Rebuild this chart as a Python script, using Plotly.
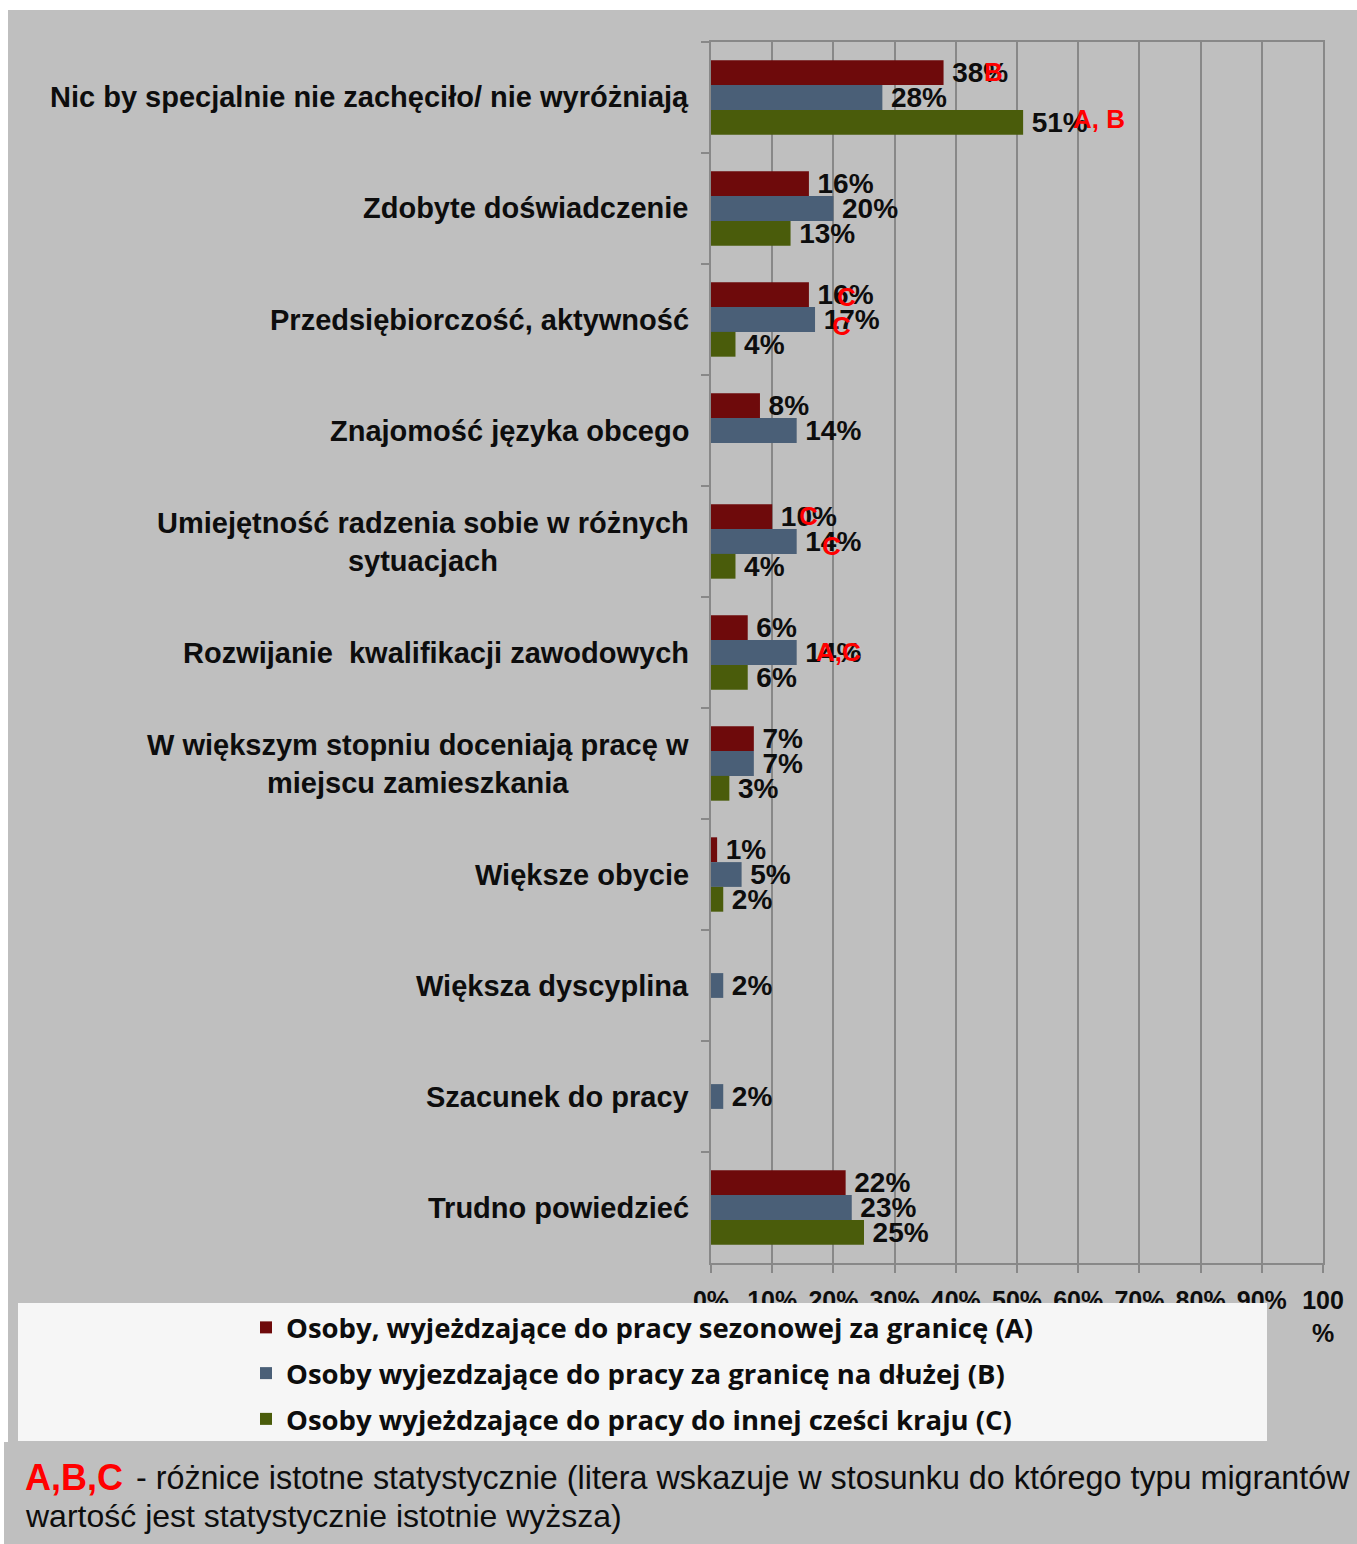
import plotly.graph_objects as go

# Survey answers (top to bottom)
categories = [
    "Nic by specjalnie nie zachęciło/ nie wyróżniają",
    "Zdobyte doświadczenie",
    "Przedsiębiorczość, aktywność",
    "Znajomość języka obcego",
    "Umiejętność radzenia sobie w różnych<br>sytuacjach",
    "Rozwijanie  kwalifikacji zawodowych",
    "W większym stopniu doceniają pracę w<br>miejscu zamieszkania",
    "Większe obycie",
    "Większa dyscyplina",
    "Szacunek do pracy",
    "Trudno powiedzieć",
]

series_names = [
    "Osoby, wyjeżdzające do pracy sezonowej za granicę (A)",
    "Osoby wyjezdzające do pracy za granicę na dłużej (B)",
    "Osoby wyjeżdzające do pracy do innej cześci kraju (C)",
]

seasonal_abroad = [38, 16, 16, 8, 10, 6, 7, 1, None, None, 22]
longer_abroad = [28, 20, 17, 14, 14, 14, 7, 5, 2, 2, 23]
domestic = [51, 13, 4, None, 4, 6, 3, 2, None, None, 25]
series_values = [seasonal_abroad, longer_abroad, domestic]

series_colors = ["#6E0A0B", "#4A5F77", "#4A5C0B"]

# Significance markers: (category index, series index, letters)
significance = [
    (0, 0, "B"),
    (0, 2, "A, B"),
    (2, 0, "C"),
    (2, 1, "C"),
    (4, 0, "C"),
    (4, 1, "C"),
    (5, 1, "A,C"),
]

x_tick_values = [0, 10, 20, 30, 40, 50, 60, 70, 80, 90, 100]
x_tick_text = ["0%", "10%", "20%", "30%", "40%", "50%", "60%", "70%", "80%", "90%", "100<br>%"]

W, H = 1357, 1544
GREY = "#BFBFBF"
GRID = "#888888"
SANS = "Liberation Sans, Arial, sans-serif"


def px_x(p):
    return p / W


def px_y(p):
    return 1 - p / H


def pct_labels(vals):
    return ["\u2009%d%%" % v if v is not None else "" for v in vals]


fig = go.Figure()

for name, vals, color in zip(series_names, series_values, series_colors):
    fig.add_trace(
        go.Bar(
            y=categories,
            x=vals,
            orientation="h",
            name=name,
            legendgroup=name,
            marker=dict(color=color, line=dict(width=0)),
            text=pct_labels(vals),
            textposition="outside",
            constraintext="none",
            cliponaxis=False,
            textfont=dict(family=SANS, size=28, color="#0D0D0D", weight="bold"),
            hoverinfo="skip",
        )
    )

annotations = []

# Category labels, centred line by line and right-aligned to the axis
for cat in categories:
    annotations.append(
        dict(
            x=px_x(691), xref="paper", xanchor="right",
            y=cat, yref="y", yanchor="middle",
            text=cat, align="center", showarrow=False,
            font=dict(family=SANS, size=29, color="#0D0D0D", weight="bold"),
        )
    )

# Red letters next to the bars whose value is significantly higher
letter_offsets = {
    (0, 0): (38, 25),
    (0, 2): (48, -22),
    (2, 0): (26, 23),
    (2, 1): (15, -6),
    (4, 0): (25, 26),
    (4, 1): (23, -4),
    (5, 1): (17, 1),
}
for ci, si, letters in significance:
    dx, dy = letter_offsets[(ci, si)]
    annotations.append(
        dict(
            x=series_values[si][ci], xref="x", xanchor="left", xshift=dx,
            y=categories[ci], yref="y", yanchor="middle", yshift=dy,
            text=letters, showarrow=False,
            font=dict(family=SANS, size=26, color="#FF0000", weight="bold"),
        )
    )

# Footnote
annotations += [
    dict(
        x=px_x(23), xref="paper", xanchor="left",
        y=px_y(1477), yref="paper", yanchor="middle",
        text="A,B,C", showarrow=False,
        font=dict(family=SANS, size=36, color="#FF0000", weight="bold"),
    ),
    dict(
        x=px_x(134), xref="paper", xanchor="left",
        y=px_y(1478), yref="paper", yanchor="middle",
        text="- różnice istotne statystycznie (litera wskazuje w stosunku do którego typu migrantów",
        showarrow=False,
        font=dict(family=SANS, size=32.3, color="#0D0D0D"),
    ),
    dict(
        x=px_x(23), xref="paper", xanchor="left",
        y=px_y(1516), yref="paper", yanchor="middle",
        text="wartość jest statystycznie istotnie wyższa)",
        showarrow=False,
        font=dict(family=SANS, size=32, color="#0D0D0D"),
    ),
]

shapes = [
    # chart background
    dict(type="rect", xref="paper", yref="paper", layer="below",
         x0=px_x(8), x1=1, y0=px_y(1442), y1=px_y(10),
         fillcolor=GREY, line=dict(width=0)),
    # footnote background
    dict(type="rect", xref="paper", yref="paper", layer="below",
         x0=px_x(4), x1=1, y0=0, y1=px_y(1442),
         fillcolor=GREY, line=dict(width=0)),
    # legend panel
    dict(type="rect", xref="paper", yref="paper", layer="above",
         x0=px_x(18), x1=px_x(1267), y0=px_y(1441), y1=px_y(1303),
         fillcolor="#F6F6F6", line=dict(width=0)),
]

fig.update_layout(
    width=W, height=H,
    autosize=False,
    margin=dict(l=0, r=0, t=0, b=0, autoexpand=False),
    paper_bgcolor="white",
    plot_bgcolor=GREY,
    barmode="group",
    bargap=0.33,
    bargroupgap=0,
    showlegend=True,
    legend=dict(
        x=px_x(246), xanchor="left",
        y=px_y(1303), yanchor="top",
        bgcolor="rgba(0,0,0,0)",
        traceorder="grouped",
        tracegroupgap=7,
        font=dict(family="Open Sans, sans-serif", size=27.5, color="#0D0D0D", weight="bold"),
    ),
    xaxis=dict(
        domain=[px_x(711), px_x(1323)],
        range=[0, 100],
        automargin=False,
        tickvals=x_tick_values,
        ticktext=x_tick_text,
        showgrid=True, gridcolor=GRID, gridwidth=2,
        showline=True, linecolor=GRID, linewidth=2, mirror=True,
        ticks="outside", ticklen=8, tickcolor=GRID, tickwidth=2,
        ticklabelstandoff=6,
        tickfont=dict(family=SANS, size=25, color="#0D0D0D", weight="bold"),
        zeroline=False,
        fixedrange=True,
    ),
    yaxis=dict(
        domain=[px_y(1263), px_y(42)],
        autorange="reversed",
        type="category",
        automargin=False,
        showticklabels=False,
        showgrid=False,
        showline=True, linecolor=GRID, linewidth=2, mirror=True,
        ticks="outside", ticklen=8, tickcolor=GRID, tickwidth=2,
        tickson="boundaries",
        zeroline=False,
        fixedrange=True,
    ),
    annotations=annotations,
    shapes=shapes,
)

fig.write_html("out.html", config={"displayModeBar": False})
